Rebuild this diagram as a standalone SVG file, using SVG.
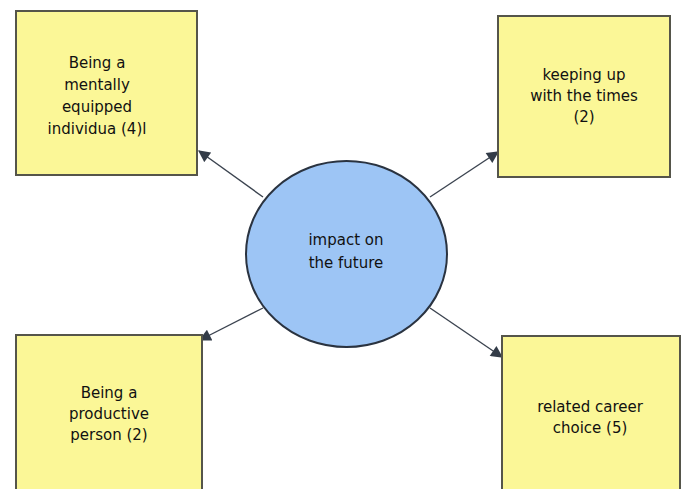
<svg xmlns="http://www.w3.org/2000/svg" width="682" height="489" viewBox="0 0 682 489">
<style>
.box{fill:#fbf797;stroke:#55554a;stroke-width:2}
.t{font-family:"DejaVu Sans",Verdana,sans-serif;font-size:15px;fill:#111111;text-anchor:middle}
.c{stroke:#3c4450;stroke-width:1.4;fill:none;marker-end:url(#ah)}
</style>
<defs>
<marker id="ah" viewBox="0 0 10 10" refX="9" refY="5" markerWidth="13" markerHeight="12" markerUnits="userSpaceOnUse" orient="auto">
<path d="M0,0 L10,5 L0,10 z" fill="#333c48"/>
</marker>
</defs>
<rect width="682" height="489" fill="#ffffff"/>
<g id="connectors">
<line class="c" x1="263" y1="197" x2="199" y2="151"/>
<line class="c" x1="430" y1="197" x2="498" y2="152"/>
<line class="c" x1="263" y1="308" x2="200" y2="340"/>
<line class="c" x1="430" y1="308" x2="502" y2="357"/>
</g>
<g id="n-tl">
<rect class="box" x="16" y="11" width="181" height="164"/>
<text class="t" x="97" y="68">Being a</text>
<text class="t" x="97" y="90">mentally</text>
<text class="t" x="97" y="112">equipped</text>
<text class="t" x="97" y="134">individua (4)l</text>
</g>
<g id="n-tr">
<rect class="box" x="498" y="16" width="172" height="161"/>
<text class="t" x="584" y="80">keeping up</text>
<text class="t" x="584" y="101">with the times</text>
<text class="t" x="584" y="122">(2)</text>
</g>
<g id="n-bl">
<rect class="box" x="16" y="335" width="186" height="160"/>
<text class="t" x="109" y="398">Being a</text>
<text class="t" x="109" y="419">productive</text>
<text class="t" x="109" y="440">person (2)</text>
</g>
<g id="n-br">
<rect class="box" x="502" y="336" width="178" height="160"/>
<text class="t" x="590" y="412">related career</text>
<text class="t" x="590" y="433">choice (5)</text>
</g>
<g id="n-center">
<ellipse cx="346.5" cy="254" rx="100.5" ry="93" fill="#9dc5f5" stroke="#2a3340" stroke-width="2"/>
<text class="t" x="346" y="245">impact on</text>
<text class="t" x="346" y="268">the future</text>
</g>
</svg>
